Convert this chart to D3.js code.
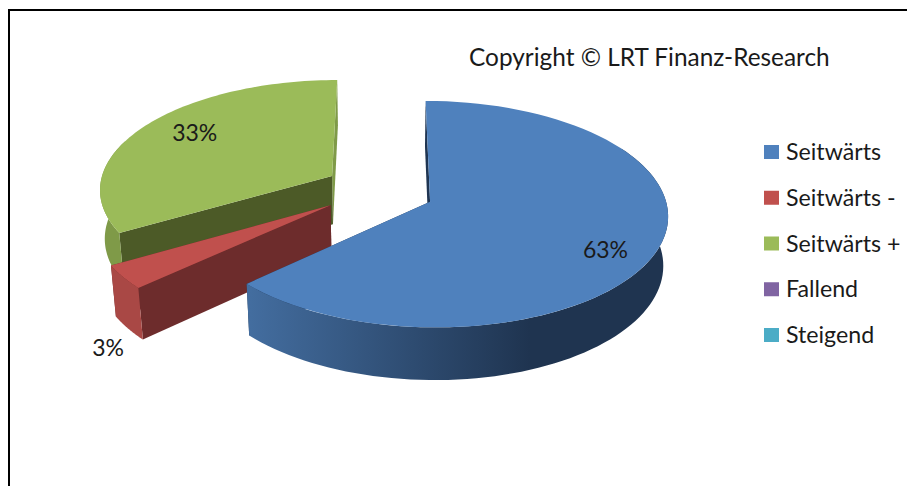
<!DOCTYPE html>
<html>
<head>
<meta charset="utf-8">
<script src="https://cdn.jsdelivr.net/npm/d3@7"></script>
<style>
html, body { margin: 0; padding: 0; background: #fff; overflow: hidden; }
svg { display: block; }
text { font-family: Lato, "Open Sans", sans-serif; fill: #1a1a1a; }
</style>
</head>
<body>
<svg></svg>
<script>
var categories = ["Seitwärts", "Seitwärts -", "Seitwärts +", "Fallend", "Steigend"];
var shares = [63.1, 3.45, 33.45, 0, 0];
var copyright = "Copyright © LRT Finanz-Research";

var colors = ["#4f81bd", "#c0504d", "#9bbb59", "#8064a2", "#4bacc6"];
var rimColors = ["url(#blueRim)", "#a94845", "#7f9a48"];
var startCutColors = ["#1f3552", "#6d2c2c", "#4c5a27"];
var endCutColors = ["#1f3552", "#6d2c2c", "#7f9a48"];

var screen = {width: 907, height: 486};

// slices are pulled out of the pie, in units of the radius
var pulled = [{x: 0.191, z: 0.1055}, {x: -0.23, z: 0.1365}, {x: -0.23, z: -0.13}];

// perspective of the tilted pie
var view = {x: 385, y: 190, a: 233.3, b: 109.3, k: 0.1089, h: 49.6, m: 0.017};

var svg = d3.select("svg")
    .attr("width", screen.width)
    .attr("height", screen.height);

var defs = svg.append("defs");
var rimGradient = defs.append("linearGradient")
    .attr("id", "blueRim")
    .attr("gradientUnits", "userSpaceOnUse")
    .attr("x1", 250).attr("x2", 530)
    .attr("y1", 0).attr("y2", 0);
rimGradient.append("stop").attr("offset", 0).attr("stop-color", "#436d9f");
rimGradient.append("stop").attr("offset", 1).attr("stop-color", "#1f3450");

// border of the pasted picture, only top and left are in frame
svg.append("path")
    .attr("d", "M9,486V10H907")
    .attr("fill", "none")
    .attr("stroke", "#000")
    .attr("stroke-width", 2);

var project = function(off, angle, radius, lower){
    var X = off.x + radius * Math.sin(angle);
    var Z = off.z - radius * Math.cos(angle);
    var w = 1 - view.k * Z + (lower ? view.m : 0);
    return [view.x + view.a * X / w, view.y + (view.b * Z + (lower ? view.h : 0)) / w];
}

var line = d3.line();

var arcPoints = function(off, from, to, lower){
    return d3.range(0, 81).map(function(i){
        return project(off, from + (to - from) * i / 80, 1, lower);
    });
}

var slices = d3.pie().sort(null).startAngle(0).endAngle(2 * Math.PI)(shares);

var drawCut = function(g, off, angle, color){
    g.append("path")
        .attr("d", line([
            project(off, 0, 0, false),
            project(off, angle, 1, false),
            project(off, angle, 1, true),
            project(off, 0, 0, true)
        ]) + "Z")
        .attr("fill", color);
}

var drawSlice = function(i, rimFrom, rimTo){
    var s = slices[i], off = pulled[i];
    var g = svg.append("g").attr("class", "slice");

    // the two cut faces, the top face hides whatever should not show
    drawCut(g, off, s.endAngle, endCutColors[i]);
    drawCut(g, off, s.startAngle, startCutColors[i]);

    var top = arcPoints(off, rimFrom, rimTo, false);
    var bottom = arcPoints(off, rimFrom, rimTo, true).reverse();
    g.append("path")
        .attr("d", line(top.concat(bottom)) + "Z")
        .attr("fill", rimColors[i]);

    g.append("path")
        .attr("d", line([project(off, 0, 0, false)].concat(arcPoints(off, s.startAngle, s.endAngle, false))) + "Z")
        .attr("fill", colors[i]);
}

var rad = Math.PI / 180;
drawSlice(2, slices[2].startAngle, 290 * rad);
drawSlice(1, slices[1].startAngle, slices[1].endAngle);
drawSlice(0, 60 * rad, slices[0].endAngle);

// data labels
var labelRadius = [0.84, 1.1, 0.78];
var labelLower = [false, true, false];
var labelShiftX = [-15, 2, 10];
var labelShiftY = [9, 12, -4];
[0, 1, 2].forEach(function(i){
    var s = slices[i];
    var p = project(pulled[i], (s.startAngle + s.endAngle) / 2, labelRadius[i], labelLower[i]);
    svg.append("text")
        .attr("class", "label")
        .attr("x", p[0] + labelShiftX[i])
        .attr("y", p[1] + labelShiftY[i])
        .attr("dy", "0.35em")
        .attr("text-anchor", "middle")
        .attr("font-size", 23)
        .text(Math.round(shares[i]) + "%");
});

// legend
var yLegend = d3.scalePoint()
    .domain(categories)
    .range([152, 335]);

var gs = svg.append("g")
    .attr("id", "legend")
    .selectAll("g")
    .data(categories)
    .enter()
    .append("g")
    .attr("transform", function(d){
        return "translate(764," + yLegend(d) + ")";
    });

gs.append("rect")
    .attr("y", -7)
    .attr("width", 15)
    .attr("height", 14)
    .attr("fill", function(d, i){ return colors[i]; });

gs.append("text")
    .attr("x", 22)
    .attr("dy", "0.35em")
    .attr("font-size", 23.2)
    .text(function(d){ return d; });

svg.append("text")
    .attr("x", 469)
    .attr("y", 66)
    .attr("font-size", 24.4)
    .text(copyright);
</script>
</body>
</html>
